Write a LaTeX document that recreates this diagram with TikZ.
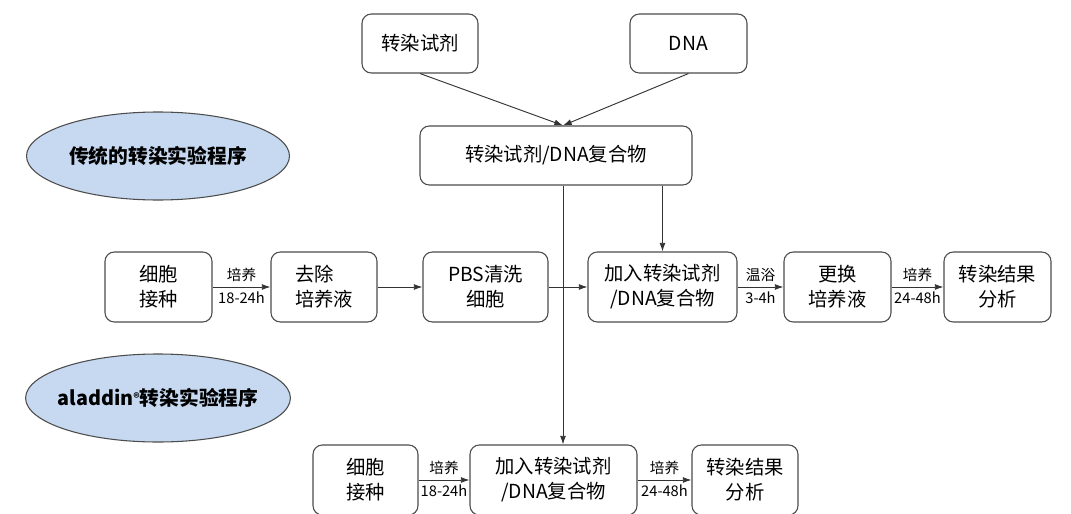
\documentclass[tikz,border=0pt]{standalone}
\usepackage{fontspec}
\setmainfont{Noto Sans CJK SC}
\usetikzlibrary{arrows.meta,shapes.geometric}
\definecolor{ovalblue}{RGB}{198,217,241}

\begin{document}
\begin{tikzpicture}[x=0.75pt, y=-0.75pt,
	box/.style={draw=black!70, line width=0.8pt, rounded corners=7pt, inner sep=0pt, align=center, minimum height=52.5pt, font=\fontsize{14.5}{18.75}\selectfont},
	oval/.style={ellipse, draw=black!70, line width=0.8pt, fill=ovalblue, inner xsep=-5pt, inner ysep=0pt, minimum width=197.25pt, minimum height=66pt, font=\fontsize{14.8}{18}\selectfont\bfseries},
	lbl/.style={inner sep=3.5pt, font=\fontsize{11}{12}\selectfont},
	arr/.style={draw=black!80, line width=0.7pt, -{Latex[length=6.5pt,width=4.5pt]}}]
\useasboundingbox (0,0) rectangle (1071,514);
\node [box, minimum width=87pt, minimum height=44.25pt] (reag) at (420,43.5) {转染试剂};
\node [box, minimum width=87.75pt, minimum height=44.25pt] (dna) at (688.5,43.5) {DNA};
\node [box, minimum width=204pt, minimum height=44.25pt] (cplx) at (556,155.5) {转染试剂/DNA复合物};
\node [oval] (old) at (158,156) {传统的转染实验程序};
\node [oval] (new) at (158,398) {aladdin\raisebox{2pt}{\fontsize{9}{9}\selectfont ®}转染实验程序};
\node [box, minimum width=80.25pt] (a1) at (158.5,287) {细胞\\接种};
\node [box, minimum width=79.5pt, align=left] (a2) at (324,287) {去除\\培养液};
\node [box, minimum width=93.75pt] (a3) at (485.5,287) {PBS清洗\\细胞};
\node [box, minimum width=111.75pt] (a4) at (662.5,287) {加入转染试剂\\/DNA复合物};
\node [box, minimum width=80.25pt] (a5) at (837.5,287) {更换\\培养液};
\node [box, minimum width=80.25pt] (a6) at (997.5,287) {转染结果\\分析};
\node [box, minimum width=78.75pt] (b1) at (365.5,480) {细胞\\接种};
\node [box, minimum width=125.25pt] (b2) at (553.5,480) {加入转染试剂\\/DNA复合物};
\node [box, minimum width=79.5pt] (b3) at (745,480) {转染结果\\分析};
\coordinate (tap) at ([xshift=5.25pt]cplx.south);
\draw [arr] (reag.south) -- (tap |- cplx.north);
\draw [arr] (dna.south) -- (tap |- cplx.north);
\draw [arr] (tap) -- (tap |- b2.north);
\draw [arr] (cplx.south -| a4.north) -- (a4.north);
\draw [arr] (a1) -- node [lbl, above] {培养} node [lbl, below] {18-24h} (a2);
\draw [arr] (a2) -- (a3);
\draw [arr] (a3) -- (a4);
\draw [arr] (a4) -- node [lbl, above] {温浴} node [lbl, below] {3-4h} (a5);
\draw [arr] (a5) -- node [lbl, above] {培养} node [lbl, below] {24-48h} (a6);
\draw [arr] (b1) -- node [lbl, above] {培养} node [lbl, below] {18-24h} (b2);
\draw [arr] (b2) -- node [lbl, above] {培养} node [lbl, below] {24-48h} (b3);
\end{tikzpicture}
\end{document}
